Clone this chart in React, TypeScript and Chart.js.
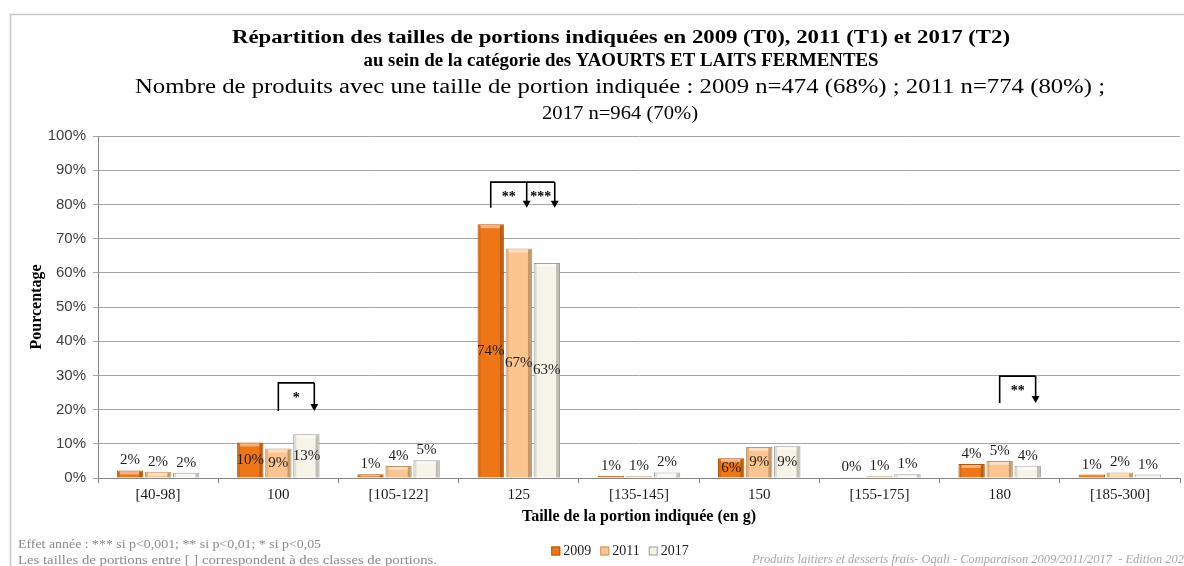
import React, { useEffect, useRef } from "react";
import { Chart, registerables } from "chart.js";

Chart.register(...registerables);

// ---------- DATA ----------
const categories = ["[40-98]", "100", "[105-122]", "125", "[135-145]", "150", "[155-175]", "180", "[185-300]"];
const years = ["2009", "2011", "2017"];
const values2009 = [2.2, 10.4, 1.1, 74.2, 0.6, 5.8, 0.2, 4.1, 1.0];
const values2011 = [1.8, 8.6, 3.5, 67.1, 0.5, 9.1, 0.5, 5.0, 1.6];
const values2017 = [1.5, 12.8, 5.2, 62.9, 1.6, 9.3, 1.1, 3.6, 1.0];
const yTickValues = [0, 10, 20, 30, 40, 50, 60, 70, 80, 90, 100];

const titleLine1 = "Répartition des tailles de portions indiquées en 2009 (T0), 2011 (T1) et 2017 (T2)";
const titleLine2 = "au sein de la catégorie des YAOURTS ET LAITS FERMENTES";
const subtitleLine1 = "Nombre de produits avec une taille de portion indiquée : 2009 n=474 (68%) ; 2011 n=774 (80%) ;";
const subtitleLine2 = "2017 n=964 (70%)";
const xAxisTitle = "Taille de la portion indiquée (en g)";
const yAxisTitle = "Pourcentage";
const footnote1 = "Effet année : *** si p<0,001; ** si p<0,01; * si p<0,05";
const footnote2 = "Les tailles de portions entre [ ] correspondent à des classes de portions.";
const sourceNote = "Produits laitiers et desserts frais- Oqali - Comparaison 2009/2011/2017  - Edition 2020";
const sourceNoteVisible = "Produits laitiers et desserts frais- Oqali - Comparaison 2009/2011/2017  - Edition 202";

// significance brackets: category index, source dataset, target datasets, stars, bracket levels (in %)
const sigCategory = [1, 3, 7];
const sigFrom = [1, 0, 1];
const sigTo = [[2], [1, 2], [2]];
const sigStars = [["*"], ["**", "***"], ["**"]];
const sigTop = [27.8, 86.5, 29.8];
const sigBottom = [19.6, 79.0, 21.9];

const fills = ["#EF7617", "#FCC48E", "#F6F4E8"];
const borders = ["#B3560B", "#C99462", "#9E9E9E"];

const SERIF = "'Liberation Serif', 'DejaVu Serif', serif";
const SANS = "'Liberation Sans', Arial, sans-serif";

function drawFit(
  ctx: CanvasRenderingContext2D,
  text: string,
  x: number,
  y: number,
  font: string,
  color: string,
  targetW: number,
  align: "left" | "center",
  measureText?: string
) {
  ctx.save();
  ctx.font = font;
  ctx.fillStyle = color;
  ctx.textBaseline = "middle";
  ctx.textAlign = "left";
  const sx = targetW / ctx.measureText(measureText || text).width;
  const startX = align === "center" ? x - targetW / 2 : x;
  ctx.translate(startX, y);
  ctx.scale(sx, 1);
  ctx.fillText(text, 0, 0);
  ctx.restore();
}

const decorPlugin = {
  id: "decor",
  beforeDraw(chart: any) {
    const ctx = chart.ctx as CanvasRenderingContext2D;
    ctx.save();
    ctx.fillStyle = "#ffffff";
    ctx.fillRect(0, 0, chart.width, chart.height);
    ctx.strokeStyle = "#c8c8c8";
    ctx.lineWidth = 1.5;
    ctx.strokeRect(10.5, 14.5, chart.width + 20, chart.height + 20);
    ctx.restore();
  },
  afterDatasetsDraw(chart: any) {
    const ctx = chart.ctx as CanvasRenderingContext2D;
    // bevel shading on bars
    chart.data.datasets.forEach((_ds: any, di: number) => {
      const meta = chart.getDatasetMeta(di);
      meta.data.forEach((bar: any) => {
        const h = bar.base - bar.y;
        if (h < 3) return;
        const l = bar.x - bar.width / 2;
        ctx.save();
        ctx.fillStyle = "rgba(0,0,0,0.10)";
        ctx.fillRect(l + 1, bar.y + 1, 2, h - 1);
        ctx.fillStyle = "rgba(0,0,0,0.22)";
        ctx.fillRect(l + bar.width - 4, bar.y + 1, 3, h - 1);
        ctx.fillStyle = "rgba(255,255,255,0.45)";
        ctx.fillRect(l + 3, bar.y + 1, bar.width - 7, Math.min(3, h - 2));
        ctx.restore();
      });
    });
    // value labels
    chart.data.datasets.forEach((ds: any, di: number) => {
      const meta = chart.getDatasetMeta(di);
      meta.data.forEach((bar: any, i: number) => {
        const v = ds.data[i];
        const h = bar.base - bar.y;
        const ty = h >= 19 ? (bar.y + bar.base) / 2 : bar.y - 10;
        ctx.save();
        ctx.font = `15px ${SERIF}`;
        ctx.fillStyle = "#1e1e1e";
        ctx.textAlign = "center";
        ctx.textBaseline = "middle";
        ctx.fillText(`${Math.round(v)}%`, bar.x, ty);
        ctx.restore();
      });
    });
    // significance brackets
    const yScale = chart.scales.y;
    sigCategory.forEach((ci, k) => {
      const src = chart.getDatasetMeta(sigFrom[k]).data[ci];
      const top = yScale.getPixelForValue(sigTop[k]);
      const bottom = yScale.getPixelForValue(sigBottom[k]);
      const x0 = src.x;
      const arrowXs = sigTo[k].map((t) => {
        const b = chart.getDatasetMeta(t).data[ci];
        return b.x + b.width * 0.3;
      });
      ctx.save();
      ctx.strokeStyle = "#000";
      ctx.fillStyle = "#000";
      ctx.lineWidth = 1.6;
      ctx.beginPath();
      ctx.moveTo(x0, bottom);
      ctx.lineTo(x0, top);
      ctx.lineTo(arrowXs[arrowXs.length - 1], top);
      ctx.stroke();
      let prevX = x0;
      arrowXs.forEach((ax, j) => {
        ctx.beginPath();
        ctx.moveTo(ax, top);
        ctx.lineTo(ax, bottom - 6);
        ctx.stroke();
        ctx.beginPath();
        ctx.moveTo(ax - 4, bottom - 7);
        ctx.lineTo(ax + 4, bottom - 7);
        ctx.lineTo(ax, bottom);
        ctx.closePath();
        ctx.fill();
        ctx.font = `bold 14px ${SERIF}`;
        ctx.textAlign = "center";
        ctx.textBaseline = "middle";
        ctx.fillText(sigStars[k][j], (prevX + ax) / 2, top + 15);
        prevX = ax;
      });
      ctx.restore();
    });
  },
  afterDraw(chart: any) {
    const ctx = chart.ctx as CanvasRenderingContext2D;
    const cx = 621;
    const boldFont = `bold 18px ${SERIF}`;
    drawFit(ctx, titleLine1, cx, 38, boldFont, "#000", 778, "center");
    drawFit(ctx, titleLine2, cx, 61, boldFont, "#000", 515, "center");
    drawFit(ctx, subtitleLine1, 620, 88, `20px ${SERIF}`, "#000", 970, "center");
    drawFit(ctx, subtitleLine2, 620, 114, `19px ${SERIF}`, "#000", 156, "center");

    // footnotes
    const footFont = `13px ${SERIF}`;
    drawFit(ctx, footnote1, 18, 545, footFont, "#8a8a8a", 303, "left");
    drawFit(ctx, footnote2, 18, 561, footFont, "#8a8a8a", 419, "left");
    const srcFont = `italic 12px ${SERIF}`;
    drawFit(ctx, sourceNote, 752, 560, srcFont, "#a6a6a6", 432, "left", sourceNoteVisible);

    // legend
    ctx.save();
    ctx.font = `14px ${SERIF}`;
    ctx.textBaseline = "middle";
    ctx.textAlign = "left";
    const sq = 9;
    const gapText = 3;
    const gapItem = 9;
    const widths = years.map((y) => sq + gapText + ctx.measureText(y).width);
    const total = widths.reduce((a, b) => a + b, 0) + gapItem * (years.length - 1);
    let x = 620 - total / 2;
    const ly = 551;
    years.forEach((y, i) => {
      ctx.fillStyle = fills[i];
      ctx.fillRect(x, ly - sq / 2, sq, sq);
      ctx.strokeStyle = borders[i];
      ctx.lineWidth = 1;
      ctx.strokeRect(x + 0.5, ly - sq / 2 + 0.5, sq - 1, sq - 1);
      ctx.fillStyle = "#1e1e1e";
      ctx.fillText(y, x + sq + gapText, ly);
      x += widths[i] + gapItem;
    });
    ctx.restore();
  },
};

export default function App() {
  const canvasRef = useRef<HTMLCanvasElement | null>(null);

  useEffect(() => {
    const canvas = canvasRef.current;
    if (!canvas) return;
    const seriesValues = [values2009, values2011, values2017];
    const chart = new Chart(canvas, {
      type: "bar",
      data: {
        labels: categories,
        datasets: years.map((y, i) => ({
          label: y,
          data: seriesValues[i],
          backgroundColor: fills[i],
          borderColor: borders[i],
          borderWidth: 1,
          categoryPercentage: 0.7,
          barPercentage: 0.94,
        })),
      },
      options: {
        responsive: false,
        animation: false,
        devicePixelRatio: 1,
        layout: { padding: { left: 25, top: 136, right: 4, bottom: 40 } },
        plugins: {
          legend: { display: false },
          title: { display: false },
          tooltip: { enabled: false },
        },
        scales: {
          x: {
            grid: {
              display: true,
              drawOnChartArea: false,
              drawTicks: true,
              tickLength: 5,
              color: "#868686",
              offset: true,
            },
            border: { display: true, color: "#868686" },
            ticks: {
              color: "#1a1a1a",
              font: { family: SERIF, size: 15 },
              padding: 3,
              maxRotation: 0,
              autoSkip: false,
            },
            title: {
              display: true,
              text: xAxisTitle,
              color: "#000",
              font: { family: SERIF, size: 16, weight: "bold" },
              padding: { top: 0, bottom: 0 },
            },
            afterFit: (s: any) => {
              s.height = 48;
            },
          },
          y: {
            min: 0,
            max: 100,
            afterBuildTicks: (s: any) => {
              s.ticks = yTickValues.map((v) => ({ value: v }));
            },
            grid: { color: "#a6a6a6", tickLength: 5 },
            border: { display: true, color: "#868686" },
            ticks: {
              color: "#404040",
              font: { family: SANS, size: 15 },
              padding: 7,
              callback: (v: any) => `${v}%`,
            },
            title: {
              display: true,
              text: yAxisTitle,
              color: "#000",
              font: { family: SERIF, size: 16, weight: "bold" },
              padding: { top: 2, bottom: 2 },
            },
            afterFit: (s: any) => {
              s.width = 73;
            },
          },
        },
      } as any,
      plugins: [decorPlugin],
    });
    return () => chart.destroy();
  }, []);

  return (
    <div style={{ position: "fixed", left: 0, top: 0, width: 1184, height: 566 }}>
      <canvas ref={canvasRef} width={1184} height={566} style={{ display: "block" }} />
    </div>
  );
}
